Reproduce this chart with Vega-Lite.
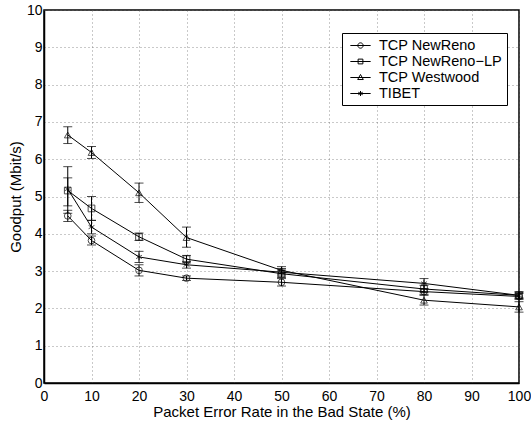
{
  "$schema": "https://vega.github.io/schema/vega-lite/v6.json",
  "autosize": {"type": "none"},
  "width": 475,
  "height": 373,
  "padding": {"left": 44, "top": 10, "right": 12, "bottom": 39},
  "background": "white",
  "config": {
    "font": "Liberation Sans",
    "view": {"stroke": "black", "strokeWidth": 1.5},
    "axis": {
      "domainColor": "black", "domainWidth": 1.5,
      "grid": true, "gridColor": "#666", "gridDash": [1, 3], "gridWidth": 0.7,
      "ticks": false,
      "labelFont": "Liberation Sans", "labelFontSize": 14, "labelColor": "black",
      "titleFont": "Liberation Sans", "titleFontSize": 15, "titleFontWeight": "normal", "titleColor": "black"
    }
  },
  "data": {
    "values": [
      {"series": "TCP NewReno", "x": 5, "y": 4.48, "lo": 4.33, "hi": 4.63},
      {"series": "TCP NewReno", "x": 10, "y": 3.82, "lo": 3.7, "hi": 3.94},
      {"series": "TCP NewReno", "x": 20, "y": 3.02, "lo": 2.87, "hi": 3.17},
      {"series": "TCP NewReno", "x": 30, "y": 2.81, "lo": 2.75, "hi": 2.87},
      {"series": "TCP NewReno", "x": 50, "y": 2.7, "lo": 2.6, "hi": 2.8},
      {"series": "TCP NewReno", "x": 80, "y": 2.45, "lo": 2.37, "hi": 2.53},
      {"series": "TCP NewReno", "x": 100, "y": 2.32, "lo": 2.24, "hi": 2.4},
      {"series": "TCP NewReno−LP", "x": 5, "y": 5.16, "lo": 4.55, "hi": 5.8},
      {"series": "TCP NewReno−LP", "x": 10, "y": 4.68, "lo": 4.36, "hi": 5.0},
      {"series": "TCP NewReno−LP", "x": 20, "y": 3.92, "lo": 3.82, "hi": 4.02},
      {"series": "TCP NewReno−LP", "x": 30, "y": 3.32, "lo": 3.22, "hi": 3.42},
      {"series": "TCP NewReno−LP", "x": 50, "y": 2.93, "lo": 2.83, "hi": 3.03},
      {"series": "TCP NewReno−LP", "x": 80, "y": 2.52, "lo": 2.42, "hi": 2.62},
      {"series": "TCP NewReno−LP", "x": 100, "y": 2.35, "lo": 2.27, "hi": 2.43},
      {"series": "TCP Westwood", "x": 5, "y": 6.65, "lo": 6.42, "hi": 6.87},
      {"series": "TCP Westwood", "x": 10, "y": 6.18, "lo": 6.02, "hi": 6.34},
      {"series": "TCP Westwood", "x": 20, "y": 5.1, "lo": 4.84, "hi": 5.36},
      {"series": "TCP Westwood", "x": 30, "y": 3.9, "lo": 3.64, "hi": 4.18},
      {"series": "TCP Westwood", "x": 50, "y": 3.02, "lo": 2.92, "hi": 3.12},
      {"series": "TCP Westwood", "x": 80, "y": 2.22, "lo": 2.09, "hi": 2.35},
      {"series": "TCP Westwood", "x": 100, "y": 2.04, "lo": 1.9, "hi": 2.18},
      {"series": "TIBET", "x": 5, "y": 5.2, "lo": 4.75, "hi": 5.5},
      {"series": "TIBET", "x": 10, "y": 4.18, "lo": 4.0, "hi": 4.36},
      {"series": "TIBET", "x": 20, "y": 3.38, "lo": 3.23, "hi": 3.53},
      {"series": "TIBET", "x": 30, "y": 3.17, "lo": 3.08, "hi": 3.26},
      {"series": "TIBET", "x": 50, "y": 2.97, "lo": 2.87, "hi": 3.07},
      {"series": "TIBET", "x": 80, "y": 2.67, "lo": 2.52, "hi": 2.8},
      {"series": "TIBET", "x": 100, "y": 2.35, "lo": 2.28, "hi": 2.45}
    ]
  },
  "encoding": {
    "x": {"field": "x", "type": "quantitative", "scale": {"domain": [0, 100], "nice": false},
      "axis": {"values": [0,10,20,30,40,50,60,70,80,90,100], "title": "Packet Error Rate in the Bad State (%)", "labelPadding": 6, "titlePadding": 1, "labelFlush": false}},
    "y": {"field": "y", "type": "quantitative", "scale": {"domain": [0, 10], "nice": false},
      "axis": {"values": [0,1,2,3,4,5,6,7,8,9,10], "title": "Goodput (Mbit/s)", "labelPadding": 2, "titlePadding": 3, "labelFlush": false}}
  },
  "resolve": {"scale": {"shape": "independent"}, "legend": {"shape": "independent"}},
  "layer": [
    {
      "mark": {"type": "rule", "color": "black", "strokeWidth": 1},
      "encoding": {"y": {"field": "lo", "type": "quantitative"}, "y2": {"field": "hi"}}
    },
    {
      "mark": {"type": "tick", "orient": "horizontal", "color": "black", "size": 9, "thickness": 1},
      "encoding": {"y": {"field": "lo", "type": "quantitative"}}
    },
    {
      "mark": {"type": "tick", "orient": "horizontal", "color": "black", "size": 9, "thickness": 1},
      "encoding": {"y": {"field": "hi", "type": "quantitative"}}
    },
    {
      "mark": {"type": "line", "color": "black", "strokeWidth": 1},
      "encoding": {"detail": {"field": "series"}, "order": {"field": "x"}}
    },
    {
      "mark": {"type": "point", "filled": false, "color": "black", "strokeWidth": 1, "size": 45},
      "encoding": {
        "shape": {"field": "series", "type": "nominal", "legend": null,
          "scale": {"domain": ["TCP NewReno", "TCP NewReno−LP", "TCP Westwood", "TIBET"],
            "range": ["circle", "square", "triangle-up", "M0,-1L0,1M-0.87,-0.5L0.87,0.5M-0.87,0.5L0.87,-0.5"]}}
      }
    },
    {
      "mark": {"type": "point", "filled": false, "color": "black", "opacity": 0, "size": 1},
      "encoding": {
        "shape": {"field": "series", "type": "nominal",
          "scale": {"domain": ["TCP NewReno", "TCP NewReno−LP", "TCP Westwood", "TIBET"],
            "range": [
              "M-1.45,0L1.45,0M-0.38,0A0.38,0.38 0 1,1 0.38,0A0.38,0.38 0 1,1 -0.38,0",
              "M-1.45,0L1.45,0M-0.34,-0.34L0.34,-0.34L0.34,0.34L-0.34,0.34Z",
              "M-1.45,0L1.45,0M0,-0.43L0.4,0.29L-0.4,0.29Z",
              "M-1.45,0L1.45,0M0,-0.36L0,0.36M-0.31,-0.18L0.31,0.18M-0.31,0.18L0.31,-0.18"
            ]},
          "legend": {
            "title": null, "orient": "none", "legendX": 298, "legendY": 23,
            "symbolSize": 196, "symbolOpacity": 1, "symbolStrokeColor": "black", "symbolStrokeWidth": 1,
            "symbolFillColor": "transparent",
            "labelFont": "Liberation Sans", "labelFontSize": 14.5, "labelColor": "black",
            "strokeColor": "black", "fillColor": "white", "padding": 5, "rowPadding": 1,
            "labelOffset": 11, "symbolOffset": 6
          }
        }
      }
    }
  ]
}
